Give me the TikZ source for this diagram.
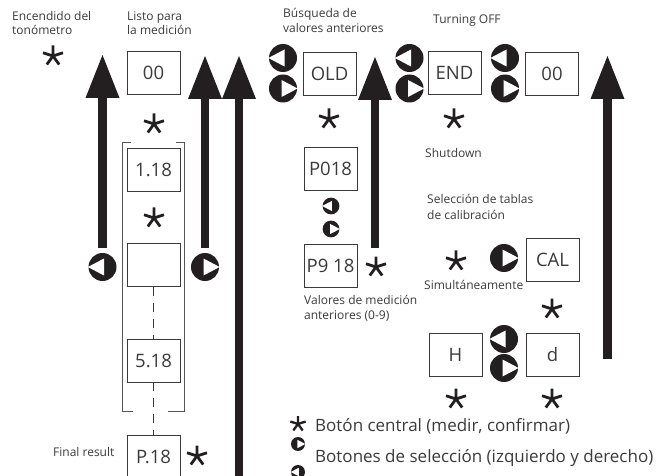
\documentclass[tikz,border=0pt]{standalone}
\usepackage{fontspec}
\setmainfont{Open Sans}
\usetikzlibrary{arrows.meta}
\definecolor{ink}{HTML}{231F20}
\definecolor{txt}{HTML}{3A3A3A}
\definecolor{brk}{HTML}{555555}
\tikzset{
  box/.style={draw=txt, line width=0.9pt, minimum width=53pt, minimum height=43pt, inner sep=0pt, text=txt, font=\fontsize{18.5}{21}\selectfont},
  lbl/.style={anchor=base west, inner sep=0pt, text=txt, font=\fontsize{12}{14}\selectfont},
  leg/.style={anchor=base west, inner sep=0pt, text=txt, font=\fontsize{17}{20}\selectfont},
  bigarrow/.style={draw=ink, line width=8.5pt, -{Triangle[width=34pt,length=43pt,line width=0pt]}},
  bracketline/.style={draw=brk, line width=0.9pt},
  dashline/.style={draw=txt, line width=1pt, dash pattern=on 9pt off 7pt},
  ast/.pic={\draw[ink, line width=2.8pt] (0,0) -- (-90:10.5) (0,0) -- (-18:10.5) (0,0) -- (198:10.5) (0,0) -- (126:10.5) (0,0) -- (54:10.5);},
  smallast/.pic={\draw[ink, line width=2.3pt] (0,0) -- (-90:8) (0,0) -- (-18:8) (0,0) -- (198:8) (0,0) -- (126:8) (0,0) -- (54:8);},
  btnL/.pic={\fill[ink] (0,0) circle[radius=14]; \fill[white] (-14.6,0) -- (1.5,-8.5) -- (1.5,8.5) -- cycle;},
  btnR/.pic={\fill[ink] (0,0) circle[radius=14]; \fill[white] (14.6,0) -- (-1.5,-8.5) -- (-1.5,8.5) -- cycle;}
}
\begin{document}
\begin{tikzpicture}[x=1pt,y=-1pt]
\useasboundingbox (0,0) rectangle (662,476);

% top labels
\node[lbl] (enc1) at (12,21) {Encendido del};
\node[lbl] (enc2) at (12,35) {tonómetro};
\node[lbl] (lis1) at (127,21) {Listo para};
\node[lbl] (lis2) at (127,35) {la medición};
\node[lbl] (bus1) at (283,18) {Búsqueda de};
\node[lbl] (bus2) at (283,33) {valores anteriores};
\node[lbl] (turn) at (433,24) {Turning OFF};
\node[lbl] (shut) at (425,158) {Shutdown};
\node[lbl] (sel1) at (427,204) {Selección de tablas};
\node[lbl] (sel2) at (427,219) {de calibración};
\node[lbl] (sim) at (424,289) {Simultáneamente};
\node[lbl] (val1) at (304,304) {Valores de medición};
\node[lbl] (val2) at (304,319) {anteriores (0-9)};
\node[lbl] (fin) at (53,456) {Final result};

% boxes
\node[box] (b00) at (153.5,73) {00};
\node[box] (b118) at (153.5,169.5) {1.18};
\node[box] (bempty) at (153.5,265) {};
\node[box] (b518) at (153.5,360.5) {5.18};
\node[box] (bp18) at (153.5,456.5) {P.18};
\node[box] (bold) at (329.5,73.5) {OLD};
\node[box] (bend) at (454.5,73) {END};
\node[box] (b00r) at (552,73.5) {00};
\node[box] (bp018) at (330.5,169) {P018};
\node[box] (bp918) at (330.5,265.5) {P9 18};
\node[box] (bcal) at (552.5,260) {CAL};
\node[box] (bh) at (455.5,354.5) {H};
\node[box] (bd) at (552.5,354.5) {d};

% bracket
\draw[bracketline] (131,142) -- (122,142) -- (122,411) -- (133,411);
\draw[bracketline] (176,142) -- (184,142) -- (184,411) -- (168,411);

% dashed links
\draw[dashline] (bempty.south) -- (b518.north);
\draw[dashline] (b518.south) -- (bp18.north);

% big arrows
\coordinate (a1s) at (102.5,248);
\coordinate (a1t) at (102.5,55);
\coordinate (a2s) at (205,248);
\coordinate (a2t) at (205,56);
\coordinate (a3s) at (239,482);
\coordinate (a3t) at (239,56);
\coordinate (a4s) at (375,248);
\coordinate (a4t) at (375,57);
\coordinate (a5s) at (607.5,359);
\coordinate (a5t) at (607.5,56);
\draw[bigarrow] (a1s) -- (a1t);
\draw[bigarrow] (a2s) -- (a2t);
\draw[bigarrow] (a3s) -- (a3t);
\draw[bigarrow] (a4s) -- (a4t);
\draw[bigarrow] (a5s) -- (a5t);

% buttons
\pic at (102.5,267) {btnL};
\pic at (205,267) {btnR};
\pic at (283,58) {btnL};
\pic at (283,88.5) {btnR};
\pic at (409.5,58) {btnL};
\pic at (409.5,88.5) {btnR};
\pic at (505,58) {btnL};
\pic at (505,88.5) {btnR};
\pic[scale=0.6] at (331,206) {btnL};
\pic[scale=0.6] at (331,229) {btnR};
\pic at (504,258) {btnR};
\pic at (504,339) {btnL};
\pic at (504,368) {btnR};

% asterisks
\pic at (53,56) {ast};
\pic at (154,124) {ast};
\pic at (154,218) {ast};
\pic at (197,456) {ast};
\pic at (329,119) {ast};
\pic at (454,119) {ast};
\pic at (376,267) {ast};
\pic at (456,261) {ast};
\pic at (552,309) {ast};
\pic at (456,399) {ast};
\pic at (552,399) {ast};

% legend
\pic at (298,424) {smallast};
\node[leg] (leg1) at (315,431) {Botón central (medir, confirmar)};
\pic[scale=0.5] at (298,444) {btnR};
\node[leg] (leg2) at (315,462) {Botones de selección (izquierdo y derecho)};
\pic[scale=0.5] at (298,472) {btnL};
\end{tikzpicture}
\end{document}
